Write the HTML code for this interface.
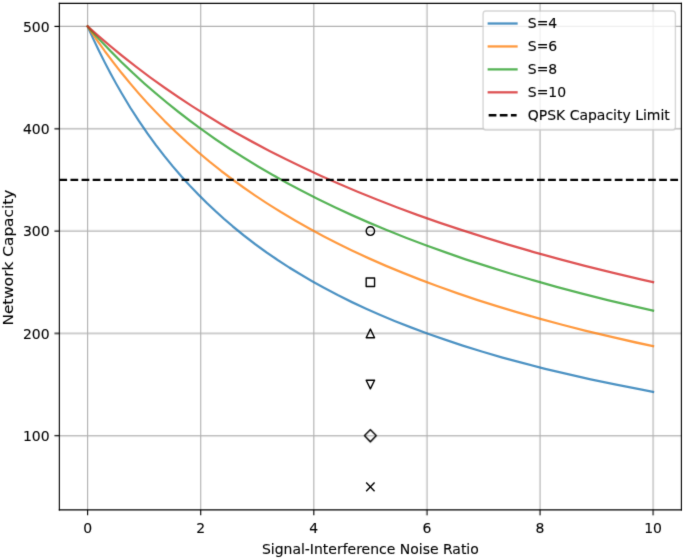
<!DOCTYPE html>
<html><head><meta charset="utf-8"><title>Network Capacity vs SINR</title>
<style>html,body{margin:0;padding:0;background:#fff;}body{width:685px;height:559px;overflow:hidden;}svg{display:block;}</style>
</head><body>
<svg width="685" height="559" preserveAspectRatio="none" viewBox="0 0 490.258449 364.235294" version="1.1"><defs><style type="text/css">*{stroke-linejoin: round; stroke-linecap: butt} text{stroke:#000;stroke-width:0.08px;}</style></defs><filter id="soft" x="0" y="0" width="1" height="1" color-interpolation-filters="sRGB"><feConvolveMatrix order="3" kernelMatrix="0.01832 0.13534 0.01832 0.13534 1.00000 0.13534 0.01832 0.13534 0.01832" preserveAlpha="false" edgeMode="duplicate"/></filter><g id="figure_1" filter="url(#soft)"><g id="patch_1"><path d="M 0 364.235294 L 490.258449 364.235294 L 490.258449 0 L 0 0 z " style="fill: #ffffff"/></g><g id="axes_1"><g id="patch_2"><path d="M 42.477137 332.242534 L 487.681909 332.242534 L 487.681909 2.215385 L 42.477137 2.215385 z " style="fill: #ffffff"/></g><g id="matplotlib.axis_1"><g id="xtick_1"><g id="line2d_1"><path d="M 62.713718 332.242534 L 62.713718 2.215385 " clip-path="url(#pc5e21eaaf8)" style="fill: none; stroke: #b0b0b0; stroke-width: 0.8; stroke-linecap: square"/></g><g id="line2d_2"><g><path d="M 0 0 L 0 3.5 " transform="translate(62.713718 332.242534)" style="stroke: #000000; stroke-width: 0.8"/></g></g><g id="text_1"><text style="font-size: 10px; font-family: 'DejaVu Sans', 'Liberation Sans', sans-serif; text-anchor: middle" x="62.713718" y="347.490971" transform="matrix(1 0 0 0.9450 0 18.9115)">0</text></g></g><g id="xtick_2"><g id="line2d_3"><path d="M 143.66004 332.242534 L 143.66004 2.215385 " clip-path="url(#pc5e21eaaf8)" style="fill: none; stroke: #b0b0b0; stroke-width: 0.8; stroke-linecap: square"/></g><g id="line2d_4"><g><path d="M 0 0 L 0 3.5 " transform="translate(143.66004 332.242534)" style="stroke: #000000; stroke-width: 0.8"/></g></g><g id="text_2"><text style="font-size: 10px; font-family: 'DejaVu Sans', 'Liberation Sans', sans-serif; text-anchor: middle" x="143.66004" y="347.490971" transform="matrix(1 0 0 0.9450 0 18.9115)">2</text></g></g><g id="xtick_3"><g id="line2d_5"><path d="M 224.606362 332.242534 L 224.606362 2.215385 " clip-path="url(#pc5e21eaaf8)" style="fill: none; stroke: #b0b0b0; stroke-width: 0.8; stroke-linecap: square"/></g><g id="line2d_6"><g><path d="M 0 0 L 0 3.5 " transform="translate(224.606362 332.242534)" style="stroke: #000000; stroke-width: 0.8"/></g></g><g id="text_3"><text style="font-size: 10px; font-family: 'DejaVu Sans', 'Liberation Sans', sans-serif; text-anchor: middle" x="224.606362" y="347.490971" transform="matrix(1 0 0 0.9450 0 18.9115)">4</text></g></g><g id="xtick_4"><g id="line2d_7"><path d="M 305.552684 332.242534 L 305.552684 2.215385 " clip-path="url(#pc5e21eaaf8)" style="fill: none; stroke: #b0b0b0; stroke-width: 0.8; stroke-linecap: square"/></g><g id="line2d_8"><g><path d="M 0 0 L 0 3.5 " transform="translate(305.552684 332.242534)" style="stroke: #000000; stroke-width: 0.8"/></g></g><g id="text_4"><text style="font-size: 10px; font-family: 'DejaVu Sans', 'Liberation Sans', sans-serif; text-anchor: middle" x="305.552684" y="347.490971" transform="matrix(1 0 0 0.9450 0 18.9115)">6</text></g></g><g id="xtick_5"><g id="line2d_9"><path d="M 386.499006 332.242534 L 386.499006 2.215385 " clip-path="url(#pc5e21eaaf8)" style="fill: none; stroke: #b0b0b0; stroke-width: 0.8; stroke-linecap: square"/></g><g id="line2d_10"><g><path d="M 0 0 L 0 3.5 " transform="translate(386.499006 332.242534)" style="stroke: #000000; stroke-width: 0.8"/></g></g><g id="text_5"><text style="font-size: 10px; font-family: 'DejaVu Sans', 'Liberation Sans', sans-serif; text-anchor: middle" x="386.499006" y="347.490971" transform="matrix(1 0 0 0.9450 0 18.9115)">8</text></g></g><g id="xtick_6"><g id="line2d_11"><path d="M 467.445328 332.242534 L 467.445328 2.215385 " clip-path="url(#pc5e21eaaf8)" style="fill: none; stroke: #b0b0b0; stroke-width: 0.8; stroke-linecap: square"/></g><g id="line2d_12"><g><path d="M 0 0 L 0 3.5 " transform="translate(467.445328 332.242534)" style="stroke: #000000; stroke-width: 0.8"/></g></g><g id="text_6"><text style="font-size: 10px; font-family: 'DejaVu Sans', 'Liberation Sans', sans-serif; text-anchor: middle" x="467.445328" y="347.490971" transform="matrix(1 0 0 0.9450 0 18.9115)">10</text></g></g><g id="text_7"><text style="font-size: 10px; font-family: 'DejaVu Sans', 'Liberation Sans', sans-serif; text-anchor: middle" x="265.079523" y="361.499096" transform="matrix(1 0 0 0.9450 0 19.1607)">Signal-Interference Noise Ratio</text></g></g><g id="matplotlib.axis_2"><g id="ytick_1"><g id="line2d_13"><path d="M 42.477137 283.905224 L 487.681909 283.905224 " clip-path="url(#pc5e21eaaf8)" style="fill: none; stroke: #b0b0b0; stroke-width: 0.8; stroke-linecap: square"/></g><g id="line2d_14"><g><path d="M 0 0 L -3.5 0 " transform="translate(42.477137 283.905224)" style="stroke: #000000; stroke-width: 0.8"/></g></g><g id="text_8"><text style="font-size: 10px; font-family: 'DejaVu Sans', 'Liberation Sans', sans-serif; text-anchor: end" x="35.477137" y="287.704443" transform="matrix(1 0 0 0.9450 0 15.4278)">100</text></g></g><g id="ytick_2"><g id="line2d_15"><path d="M 42.477137 217.233073 L 487.681909 217.233073 " clip-path="url(#pc5e21eaaf8)" style="fill: none; stroke: #b0b0b0; stroke-width: 0.8; stroke-linecap: square"/></g><g id="line2d_16"><g><path d="M 0 0 L -3.5 0 " transform="translate(42.477137 217.233073)" style="stroke: #000000; stroke-width: 0.8"/></g></g><g id="text_9"><text style="font-size: 10px; font-family: 'DejaVu Sans', 'Liberation Sans', sans-serif; text-anchor: end" x="35.477137" y="221.032292" transform="matrix(1 0 0 0.9450 0 11.7608)">200</text></g></g><g id="ytick_3"><g id="line2d_17"><path d="M 42.477137 150.560921 L 487.681909 150.560921 " clip-path="url(#pc5e21eaaf8)" style="fill: none; stroke: #b0b0b0; stroke-width: 0.8; stroke-linecap: square"/></g><g id="line2d_18"><g><path d="M 0 0 L -3.5 0 " transform="translate(42.477137 150.560921)" style="stroke: #000000; stroke-width: 0.8"/></g></g><g id="text_10"><text style="font-size: 10px; font-family: 'DejaVu Sans', 'Liberation Sans', sans-serif; text-anchor: end" x="35.477137" y="154.36014" transform="matrix(1 0 0 0.9450 0 8.0939)">300</text></g></g><g id="ytick_4"><g id="line2d_19"><path d="M 42.477137 83.88877 L 487.681909 83.88877 " clip-path="url(#pc5e21eaaf8)" style="fill: none; stroke: #b0b0b0; stroke-width: 0.8; stroke-linecap: square"/></g><g id="line2d_20"><g><path d="M 0 0 L -3.5 0 " transform="translate(42.477137 83.88877)" style="stroke: #000000; stroke-width: 0.8"/></g></g><g id="text_11"><text style="font-size: 10px; font-family: 'DejaVu Sans', 'Liberation Sans', sans-serif; text-anchor: end" x="35.477137" y="87.687989" transform="matrix(1 0 0 0.9450 0 4.4269)">400</text></g></g><g id="ytick_5"><g id="line2d_21"><path d="M 42.477137 17.216619 L 487.681909 17.216619 " clip-path="url(#pc5e21eaaf8)" style="fill: none; stroke: #b0b0b0; stroke-width: 0.8; stroke-linecap: square"/></g><g id="line2d_22"><g><path d="M 0 0 L -3.5 0 " transform="translate(42.477137 17.216619)" style="stroke: #000000; stroke-width: 0.8"/></g></g><g id="text_12"><text style="font-size: 10px; font-family: 'DejaVu Sans', 'Liberation Sans', sans-serif; text-anchor: end" x="35.477137" y="21.015837" transform="matrix(1 0 0 0.9450 0 0.7599)">500</text></g></g><g id="text_13"><text style="font-size: 10px; font-family: 'DejaVu Sans', 'Liberation Sans', sans-serif; text-anchor: middle" x="9.524661" y="167.880543" transform="rotate(-90 9.524661 167.880543)">Network Capacity</text></g></g><g id="line2d_23"><path d="M 62.713718 17.216619 L 66.781372 25.387225 L 70.849026 33.166894 L 74.916681 40.583027 L 78.984335 47.660523 L 83.05199 54.42206 L 87.119644 60.888334 L 93.221126 70.07509 L 99.322607 78.697086 L 105.424089 86.804848 L 111.52557 94.443049 L 117.627052 101.651332 L 123.728533 108.465001 L 129.830015 114.915597 L 135.931496 121.031387 L 142.032978 126.837778 L 148.13446 132.35767 L 154.235941 137.611756 L 160.337423 142.618784 L 166.438904 147.395781 L 174.574213 153.433867 L 182.709522 159.123434 L 190.844831 164.493811 L 198.980139 169.571126 L 207.115448 174.378728 L 215.250757 178.937555 L 223.386066 183.266428 L 231.521374 187.382319 L 241.69051 192.250906 L 251.859646 196.83742 L 262.028782 201.165685 L 272.197918 205.256914 L 282.367054 209.130061 L 294.570017 213.513759 L 306.77298 217.633907 L 318.975943 221.513581 L 331.178906 225.173235 L 345.415697 229.188921 L 359.652487 232.955406 L 373.889277 236.49519 L 390.159895 240.288447 L 406.430512 243.837568 L 422.70113 247.165387 L 441.005575 250.669558 L 459.310019 253.944032 L 467.445328 255.331445 L 467.445328 255.331445 " clip-path="url(#pc5e21eaaf8)" style="fill: none; stroke: #1f77b4; stroke-opacity: 0.8; stroke-width: 1.5; stroke-linecap: square"/></g><g id="line2d_24"><path d="M 62.713718 17.216619 L 68.815199 25.387225 L 74.916681 33.166894 L 81.018162 40.583027 L 87.119644 47.660523 L 93.221126 54.42206 L 99.322607 60.888334 L 105.424089 67.07827 L 111.52557 73.009214 L 117.627052 78.697086 L 125.762361 85.927945 L 133.897669 92.784148 L 142.032978 99.294078 L 150.168287 105.483322 L 158.303596 111.375006 L 166.438904 116.990085 L 174.574213 122.347591 L 182.709522 127.464851 L 190.844831 132.35767 L 201.013966 138.179967 L 211.183102 143.69965 L 221.352238 148.939714 L 231.521374 153.920882 L 241.69051 158.661877 L 251.859646 163.179662 L 264.062609 168.327951 L 276.265572 173.20093 L 288.468536 177.820108 L 300.671499 182.204811 L 312.874462 186.372448 L 327.111252 190.981247 L 341.348042 195.338396 L 355.584833 199.463957 L 369.821623 203.375917 L 386.092241 207.605844 L 402.362858 211.599462 L 418.633476 215.376036 L 436.93792 219.386623 L 455.242365 223.166126 L 467.445328 225.567092 L 467.445328 225.567092 " clip-path="url(#pc5e21eaaf8)" style="fill: none; stroke: #ff7f0e; stroke-opacity: 0.8; stroke-width: 1.5; stroke-linecap: square"/></g><g id="line2d_25"><path d="M 62.713718 17.216619 L 70.849026 25.387225 L 78.984335 33.166894 L 87.119644 40.583027 L 95.254953 47.660523 L 103.390261 54.42206 L 111.52557 60.888334 L 119.660879 67.07827 L 127.796188 73.009214 L 135.931496 78.697086 L 144.066805 84.15653 L 154.235941 90.680057 L 164.405077 96.891752 L 174.574213 102.813452 L 184.743349 108.465001 L 194.912485 113.864474 L 205.081621 119.028368 L 215.250757 123.971771 L 227.45372 129.632194 L 239.656683 135.016724 L 251.859646 140.14505 L 264.062609 145.035034 L 276.265572 149.702915 L 290.502363 154.887728 L 304.739153 159.811623 L 318.975943 164.493811 L 333.212734 168.951665 L 349.483351 173.791791 L 365.753969 178.380645 L 382.024586 182.737298 L 398.295204 186.878941 L 416.599648 191.300567 L 434.904093 195.489613 L 453.208538 199.463957 L 467.445328 202.417039 L 467.445328 202.417039 " clip-path="url(#pc5e21eaaf8)" style="fill: none; stroke: #2ca02c; stroke-opacity: 0.8; stroke-width: 1.5; stroke-linecap: square"/></g><g id="line2d_26"><path d="M 62.713718 17.216619 L 70.849026 23.785304 L 78.984335 30.100126 L 87.119644 36.175524 L 97.28878 43.453345 L 107.457916 50.401852 L 117.627052 57.042904 L 127.796188 63.396464 L 137.965324 69.480805 L 148.13446 75.312684 L 158.303596 80.907495 L 168.472731 86.279405 L 180.675695 92.449786 L 192.878658 98.338628 L 205.081621 103.964771 L 217.284584 109.34541 L 229.487547 114.49627 L 241.69051 119.431764 L 255.927301 124.935231 L 270.164091 130.182722 L 284.400881 135.191692 L 298.637671 139.97804 L 314.908289 145.194123 L 331.178906 150.158069 L 347.449524 154.887728 L 363.720141 159.399305 L 382.024586 164.232458 L 400.329031 168.827264 L 418.633476 173.20093 L 438.971747 177.820108 L 459.310019 182.204811 L 467.445328 183.896997 L 467.445328 183.896997 " clip-path="url(#pc5e21eaaf8)" style="fill: none; stroke: #d62728; stroke-opacity: 0.8; stroke-width: 1.5; stroke-linecap: square"/></g><g id="line2d_27"><path d="M 42.477137 117.224846 L 487.681909 117.224846 " clip-path="url(#pc5e21eaaf8)" style="fill: none; stroke-dasharray: 5.55,2.4; stroke-dashoffset: 0; stroke: #000000; stroke-width: 1.5"/></g><g id="line2d_28"><g clip-path="url(#pc5e21eaaf8)"><path d="M 0 3 C 0.795609 3 1.55874 2.683901 2.12132 2.12132 C 2.683901 1.55874 3 0.795609 3 0 C 3 -0.795609 2.683901 -1.55874 2.12132 -2.12132 C 1.55874 -2.683901 0.795609 -3 0 -3 C -0.795609 -3 -1.55874 -2.683901 -2.12132 -2.12132 C -2.683901 -1.55874 -3 -0.795609 -3 0 C -3 0.795609 -2.683901 1.55874 -2.12132 2.12132 C -1.55874 2.683901 -0.795609 3 0 3 z " transform="translate(265.079523 150.560921) scale(1 0.937)" style="fill-opacity: 0; stroke: #000000"/></g></g><g id="line2d_29"><g clip-path="url(#pc5e21eaaf8)"><path d="M -3 3 L 3 3 L 3 -3 L -3 -3 z " transform="translate(265.079523 183.896997) scale(1 0.937)" style="fill-opacity: 0; stroke: #000000; stroke-linejoin: round"/></g></g><g id="line2d_30"><g clip-path="url(#pc5e21eaaf8)"><path d="M 0 -3 L -3 3 L 3 3 z " transform="translate(265.079523 217.233073) scale(1 0.937)" style="fill-opacity: 0; stroke: #000000; stroke-linejoin: round"/></g></g><g id="line2d_31"><g clip-path="url(#pc5e21eaaf8)"><path d="M -0 3 L 3 -3 L -3 -3 z " transform="translate(265.079523 250.569148) scale(1 0.937)" style="fill-opacity: 0; stroke: #000000; stroke-linejoin: round"/></g></g><g id="line2d_32"><g clip-path="url(#pc5e21eaaf8)"><path d="M -0 4.242641 L 4.242641 0 L 0 -4.242641 L -4.242641 -0 z " transform="translate(265.079523 283.905224) scale(1 0.937)" style="fill-opacity: 0; stroke: #000000; stroke-linejoin: round"/></g></g><g id="line2d_33"><g clip-path="url(#pc5e21eaaf8)"><path d="M -3 3 L 3 -3 M -3 -3 L 3 3 " transform="translate(265.079523 317.2413) scale(1 0.937)" style="fill-opacity: 0; stroke: #000000"/></g></g><g id="patch_3"><path d="M 42.477137 332.242534 L 42.477137 2.215385 " style="fill: none; stroke: #000000; stroke-width: 0.8; stroke-linejoin: miter; stroke-linecap: square"/></g><g id="patch_4"><path d="M 487.681909 332.242534 L 487.681909 2.215385 " style="fill: none; stroke: #000000; stroke-width: 0.8; stroke-linejoin: miter; stroke-linecap: square"/></g><g id="patch_5"><path d="M 42.477137 332.242534 L 487.681909 332.242534 " style="fill: none; stroke: #000000; stroke-width: 0.8; stroke-linejoin: miter; stroke-linecap: square"/></g><g id="patch_6"><path d="M 42.477137 2.215385 L 487.681909 2.215385 " style="fill: none; stroke: #000000; stroke-width: 0.8; stroke-linejoin: miter; stroke-linecap: square"/></g><g id="legend_1"><g id="patch_7"><path d="M 347.741364 84.68601 L 481.397614 84.68601 Q 483.397614 84.68601 483.397614 82.68601 L 483.397614 9.215385 Q 483.397614 7.215385 481.397614 7.215385 L 347.741364 7.215385 Q 345.741364 7.215385 345.741364 9.215385 L 345.741364 82.68601 Q 345.741364 84.68601 347.741364 84.68601 z " style="fill: #ffffff; opacity: 0.8; stroke: #cccccc; stroke-linejoin: miter"/></g><g id="line2d_34"><path d="M 349.741364 15.313822 L 359.741364 15.313822 L 369.741364 15.313822 " style="fill: none; stroke: #1f77b4; stroke-opacity: 0.8; stroke-width: 1.5; stroke-linecap: square"/></g><g id="text_14"><text style="font-size: 10px; font-family: 'DejaVu Sans', 'Liberation Sans', sans-serif; text-anchor: start" x="377.741364" y="18.813822" transform="matrix(1 0 0 0.9450 0 0.5737)">S=4</text></g><g id="line2d_35"><path d="M 349.741364 30.261947 L 359.741364 30.261947 L 369.741364 30.261947 " style="fill: none; stroke: #ff7f0e; stroke-opacity: 0.8; stroke-width: 1.5; stroke-linecap: square"/></g><g id="text_15"><text style="font-size: 10px; font-family: 'DejaVu Sans', 'Liberation Sans', sans-serif; text-anchor: start" x="377.741364" y="33.761947" transform="matrix(1 0 0 0.9450 0 1.3958)">S=6</text></g><g id="line2d_36"><path d="M 349.741364 45.210072 L 359.741364 45.210072 L 369.741364 45.210072 " style="fill: none; stroke: #2ca02c; stroke-opacity: 0.8; stroke-width: 1.5; stroke-linecap: square"/></g><g id="text_16"><text style="font-size: 10px; font-family: 'DejaVu Sans', 'Liberation Sans', sans-serif; text-anchor: start" x="377.741364" y="48.710072" transform="matrix(1 0 0 0.9450 0 2.2179)">S=8</text></g><g id="line2d_37"><path d="M 349.741364 60.158197 L 359.741364 60.158197 L 369.741364 60.158197 " style="fill: none; stroke: #d62728; stroke-opacity: 0.8; stroke-width: 1.5; stroke-linecap: square"/></g><g id="text_17"><text style="font-size: 10px; font-family: 'DejaVu Sans', 'Liberation Sans', sans-serif; text-anchor: start" x="377.741364" y="63.658197" transform="matrix(1 0 0 0.9450 0 3.0401)">S=10</text></g><g id="line2d_38"><path d="M 349.741364 75.106322 L 359.741364 75.106322 L 369.741364 75.106322 " style="fill: none; stroke-dasharray: 5.55,2.4; stroke-dashoffset: 0; stroke: #000000; stroke-width: 1.5"/></g><g id="text_18"><text style="font-size: 10px; font-family: 'DejaVu Sans', 'Liberation Sans', sans-serif; text-anchor: start" x="377.741364" y="78.606322" transform="matrix(1 0 0 0.9450 0 3.8622)">QPSK Capacity Limit</text></g></g></g></g><defs><clipPath id="pc5e21eaaf8"><rect x="42.477137" y="2.215385" width="445.204771" height="330.027149"/></clipPath></defs></svg> 
</body></html>
